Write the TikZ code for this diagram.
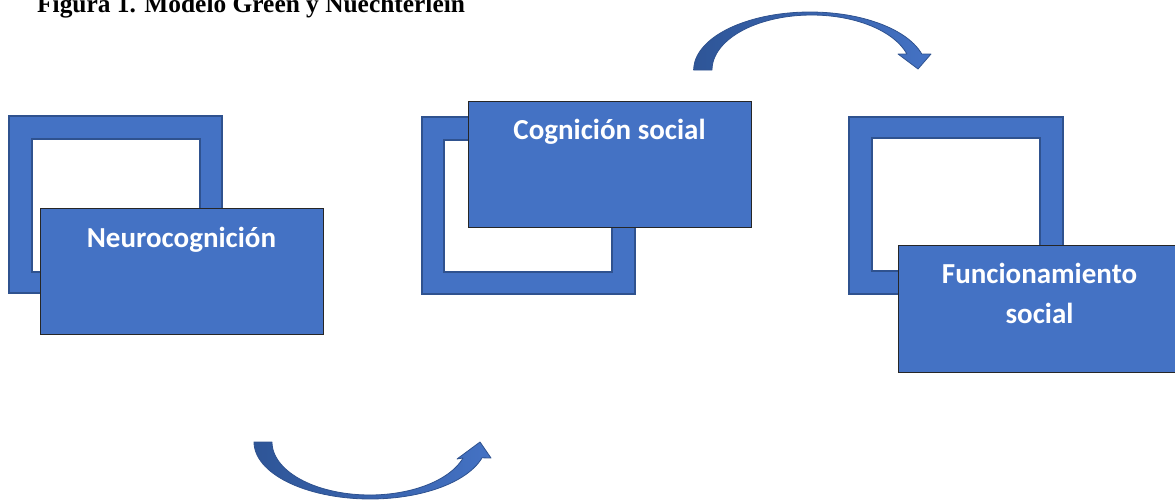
\documentclass[tikz,border=0pt]{standalone}
\usepackage{fontspec}
\setmainfont{Liberation Serif}
\newfontfamily\calfont{Carlito}
\definecolor{boxblue}{HTML}{4472C4}
\definecolor{framedark}{HTML}{2F528F}
\definecolor{arrowdark}{HTML}{2E5597}
\tikzset{
  frameout/.style={fill=boxblue, draw=framedark, line width=1.5pt},
  framein/.style={fill=white, draw=framedark, line width=1.5pt},
  bluebox/.style={fill=boxblue, draw=black!85, line width=1pt, inner sep=0pt, anchor=north west},
  lbl/.style={font=\calfont\bfseries\fontsize{29}{40}\selectfont, text=white, inner sep=0pt, anchor=base},
  curvarrow/.style={left color=arrowdark, right color=boxblue, draw=framedark, line width=0.8pt, line join=round},
}
\begin{document}
\begin{tikzpicture}[x=1pt,y=-1pt]
\useasboundingbox (0,0) rectangle (1175,501);
\clip (0,0) rectangle (1175,501);
% title
\node[anchor=base west, inner sep=0pt, font=\bfseries\fontsize{25.4}{28}\selectfont] (title) at (37,12.5) {Figura 1. Modelo Green y Nuechterlein};
% frames
\path[frameout] (9,116) rectangle (222,293);
\path[framein] (32,139) rectangle (200,272);
\path[frameout] (422,117) rectangle (635,294);
\path[framein] (444,140) rectangle (612,272);
\path[frameout] (849,117) rectangle (1063,294);
\path[framein] (872,138) rectangle (1040,271);
% boxes
\node[bluebox, minimum width=283pt, minimum height=126pt] (neuro) at (40,208) {};
\node[bluebox, minimum width=283pt, minimum height=126pt] (cog) at (468,101) {};
\node[bluebox, minimum width=283pt, minimum height=127pt] (func) at (898,245) {};
% labels
\node[lbl] (neurotxt) at (181.5,247) {Neurocognición};
\node[lbl] (cogtxt) at (609.5,139) {Cognición social};
\node[lbl] (functxt1) at (1039.5,283) {Funcionamiento};
\node[lbl] (functxt2) at (1039.5,323) {social};
% top curved arrow
\path[curvarrow]
  plot[domain=180:16, samples=60] ({810+116.3*cos(\x)},{70-58*sin(\x)})
  -- (931,54) -- (918,69) -- (898,54) -- (907,54)
  -- plot[domain=16.9:180, samples=60] ({811.6+99.6*cos(\x)},{70-55*sin(\x)})
  -- cycle;
% bottom curved arrow
\path[curvarrow]
  plot[domain=180:343.9, samples=60] ({370.3+116.3*cos(\x)},{442-57*sin(\x)})
  -- (491,458) -- (480,442) -- (457,459) -- (463,458)
  -- plot[domain=342.4:180, samples=60] ({369.8+97.8*cos(\x)},{442-53*sin(\x)})
  -- cycle;
\end{tikzpicture}
\end{document}
